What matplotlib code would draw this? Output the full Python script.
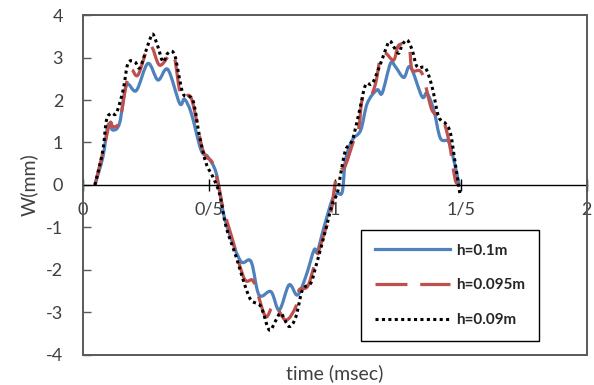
import matplotlib as mpl
mpl.use('Agg')
import matplotlib.pyplot as plt
import numpy as np
from matplotlib.patches import Rectangle, PathPatch
from matplotlib.path import Path
from matplotlib.lines import Line2D

plt.rcParams['font.family'] = ['Lato', 'DejaVu Sans']

# deflection W(mm) against time (msec) for three plate heights
t_01 = [0.049, 0.081, 0.101, 0.121, 0.147, 0.174, 0.213, 0.259, 0.299, 0.338,
        0.385, 0.404, 0.431, 0.470, 0.496, 0.530, 0.556, 0.582, 0.628, 0.668,
        0.700, 0.747, 0.780, 0.819, 0.852, 0.885, 0.918, 0.931, 0.958, 0.990,
        1.010, 1.030, 1.043, 1.070, 1.103, 1.129, 1.168, 1.188, 1.221, 1.241,
        1.274, 1.300, 1.346, 1.366, 1.393, 1.419, 1.452, 1.472, 1.494]
w_01 = [0.00, 0.67, 1.41, 1.29, 1.46, 2.35, 2.22, 2.86, 2.47, 2.72,
        1.92, 2.02, 1.69, 0.82, 0.67, 0.28, -0.59, -1.14, -1.80, -1.80,
        -2.59, -2.51, -2.94, -2.35, -2.59, -2.16, -1.53, -1.57, -0.98, -0.35,
        -0.20, -0.16, 0.59, 1.06, 1.29, 1.92, 2.24, 2.16, 2.86, 2.78,
        2.53, 2.78, 2.08, 2.16, 1.76, 1.10, 1.02, 0.59, 0.00]

t_0095 = [0.049, 0.080, 0.108, 0.121, 0.147, 0.174, 0.194, 0.220, 0.266, 0.305,
          0.345, 0.365, 0.391, 0.431, 0.477, 0.516, 0.543, 0.556, 0.595, 0.641,
          0.674, 0.694, 0.727, 0.760, 0.806, 0.846, 0.859, 0.892, 0.918, 0.958,
          0.984, 1.004, 1.024, 1.043, 1.076, 1.096, 1.109, 1.136, 1.162, 1.182,
          1.202, 1.234, 1.254, 1.294, 1.307, 1.346, 1.386, 1.425, 1.452, 1.465,
          1.478, 1.490]
w_0095 = [0.00, 0.75, 1.45, 1.37, 1.50, 2.39, 2.71, 2.59, 3.29, 2.82,
          3.06, 2.98, 2.08, 2.04, 0.82, 0.51, -0.12, -0.51, -1.29, -2.20,
          -2.24, -2.55, -3.10, -2.82, -3.18, -2.86, -2.47, -2.39, -1.92, -1.14,
          -0.67, 0.12, 0.35, 0.47, 1.06, 1.37, 2.00, 2.00, 2.39, 3.02,
          3.10, 2.94, 3.29, 3.25, 2.71, 2.63, 1.76, 1.61, 1.06, 0.59,
          0.12, 0.00]

t_009 = [0.049, 0.080, 0.095, 0.115, 0.134, 0.161, 0.180, 0.207, 0.226, 0.246,
         0.266, 0.279, 0.299, 0.319, 0.338, 0.365, 0.398, 0.437, 0.464, 0.490,
         0.516, 0.543, 0.569, 0.609, 0.641, 0.668, 0.707, 0.740, 0.767, 0.787,
         0.819, 0.846, 0.872, 0.905, 0.925, 0.964, 0.991, 1.010, 1.024, 1.043,
         1.070, 1.096, 1.122, 1.149, 1.182, 1.215, 1.234, 1.254, 1.267, 1.287,
         1.307, 1.327, 1.360, 1.386, 1.412, 1.439, 1.459, 1.478, 1.498]
w_009 = [0.00, 0.80, 1.53, 1.69, 1.69, 2.24, 2.86, 2.90, 2.75, 3.06,
         3.41, 3.55, 3.25, 2.90, 3.10, 3.06, 2.16, 2.00, 1.14, 0.51,
         0.20, -0.20, -0.98, -1.69, -2.31, -2.71, -2.86, -3.41, -3.18, -3.02,
         -3.33, -3.10, -2.47, -2.31, -1.92, -1.06, -0.43, -0.20, 0.27, 0.82,
         1.06, 1.69, 2.35, 2.39, 2.86, 3.37, 3.25, 3.10, 3.29, 3.41,
         3.18, 2.78, 2.75, 2.31, 1.61, 1.45, 1.22, 0.51, -0.27]

xticks = [0, 0.5, 1, 1.5, 2]
xlabels = ['0', '0/5', '1', '1/5', '2']
yticks = [-4, -3, -2, -1, 0, 1, 2, 3, 4]


def smooth_path(x, y):
    # smoothed line through the points: cubic bezier segments (catmull-rom tangents)
    p = np.column_stack([x, y])
    ext = np.vstack([p[0], p, p[-1]])
    verts = [p[0]]
    codes = [Path.MOVETO]
    for i in range(1, len(ext) - 2):
        p0, p1, p2, p3 = ext[i - 1], ext[i], ext[i + 1], ext[i + 2]
        verts += [p1 + (p2 - p0) / 6, p2 - (p3 - p1) / 6, p2]
        codes += [Path.CURVE4] * 3
    return Path(verts, codes)


series = [
    (t_01, w_01, dict(color='#4F81BD', lw=2.3, linestyle='-'), 'h=0.1m'),
    (t_0095, w_0095, dict(color='#C0504D', lw=2.3, linestyle=(0, (10, 4))), 'h=0.095m'),
    (t_009, w_009, dict(color='black', lw=2.2, linestyle=(0, (1, 1.1))), 'h=0.09m'),
]

fig = plt.figure(figsize=(5.94, 3.85), dpi=100)
ax = fig.add_axes([0.139, 0.078, 0.849, 0.883])

handles = []
for x, y, style, name in series:
    ax.add_patch(PathPatch(smooth_path(x, y), fill=False, edgecolor=style['color'],
                           lw=style['lw'], linestyle=style['linestyle'],
                           joinstyle='round', zorder=2))
    handles.append(Line2D([], [], label=name, **style))

ax.set_xlim(0, 2)
ax.set_ylim(-4, 4)

# x axis runs through y=0, frame drawn separately
for s in ['left', 'right', 'top']:
    ax.spines[s].set_visible(False)
ax.spines['bottom'].set_position(('data', 0))
ax.spines['bottom'].set_color('black')
ax.spines['bottom'].set_linewidth(1.0)
ax.add_patch(Rectangle((0, 0), 1, 1, transform=ax.transAxes, fill=False,
                       edgecolor='#595959', lw=1.4, clip_on=False, zorder=5))

ax.set_xticks(xticks)
ax.set_xticklabels(xlabels)
ax.set_yticks(yticks)
ax.set_yticklabels([str(v) for v in yticks])
ax.tick_params(axis='x', direction='inout', length=8, width=1, pad=8,
               labelsize=13, colors='black', labelcolor='#404040')
ax.tick_params(axis='y', direction='in', length=6, width=1, pad=14,
               labelsize=13, color='#595959', labelcolor='#404040')

ax.set_ylabel('W(mm)', fontsize=14, color='#404040', labelpad=6)
ax.set_xlabel('time (msec)', fontsize=14, color='#404040', labelpad=2)
ax.xaxis.set_label_coords(0.5, -0.028)

leg = ax.legend(handles=handles, loc='upper left', bbox_to_anchor=(0.552, 0.368),
                borderaxespad=0, fancybox=False, edgecolor='black', framealpha=1,
                prop={'weight': 'bold', 'size': 11}, handlelength=4.9,
                labelspacing=1.35, borderpad=0.9, handletextpad=0.45)
leg.get_frame().set_linewidth(1.0)
for txt in leg.get_texts():
    txt.set_color('#262626')

fig.savefig('out.png', dpi=100)
